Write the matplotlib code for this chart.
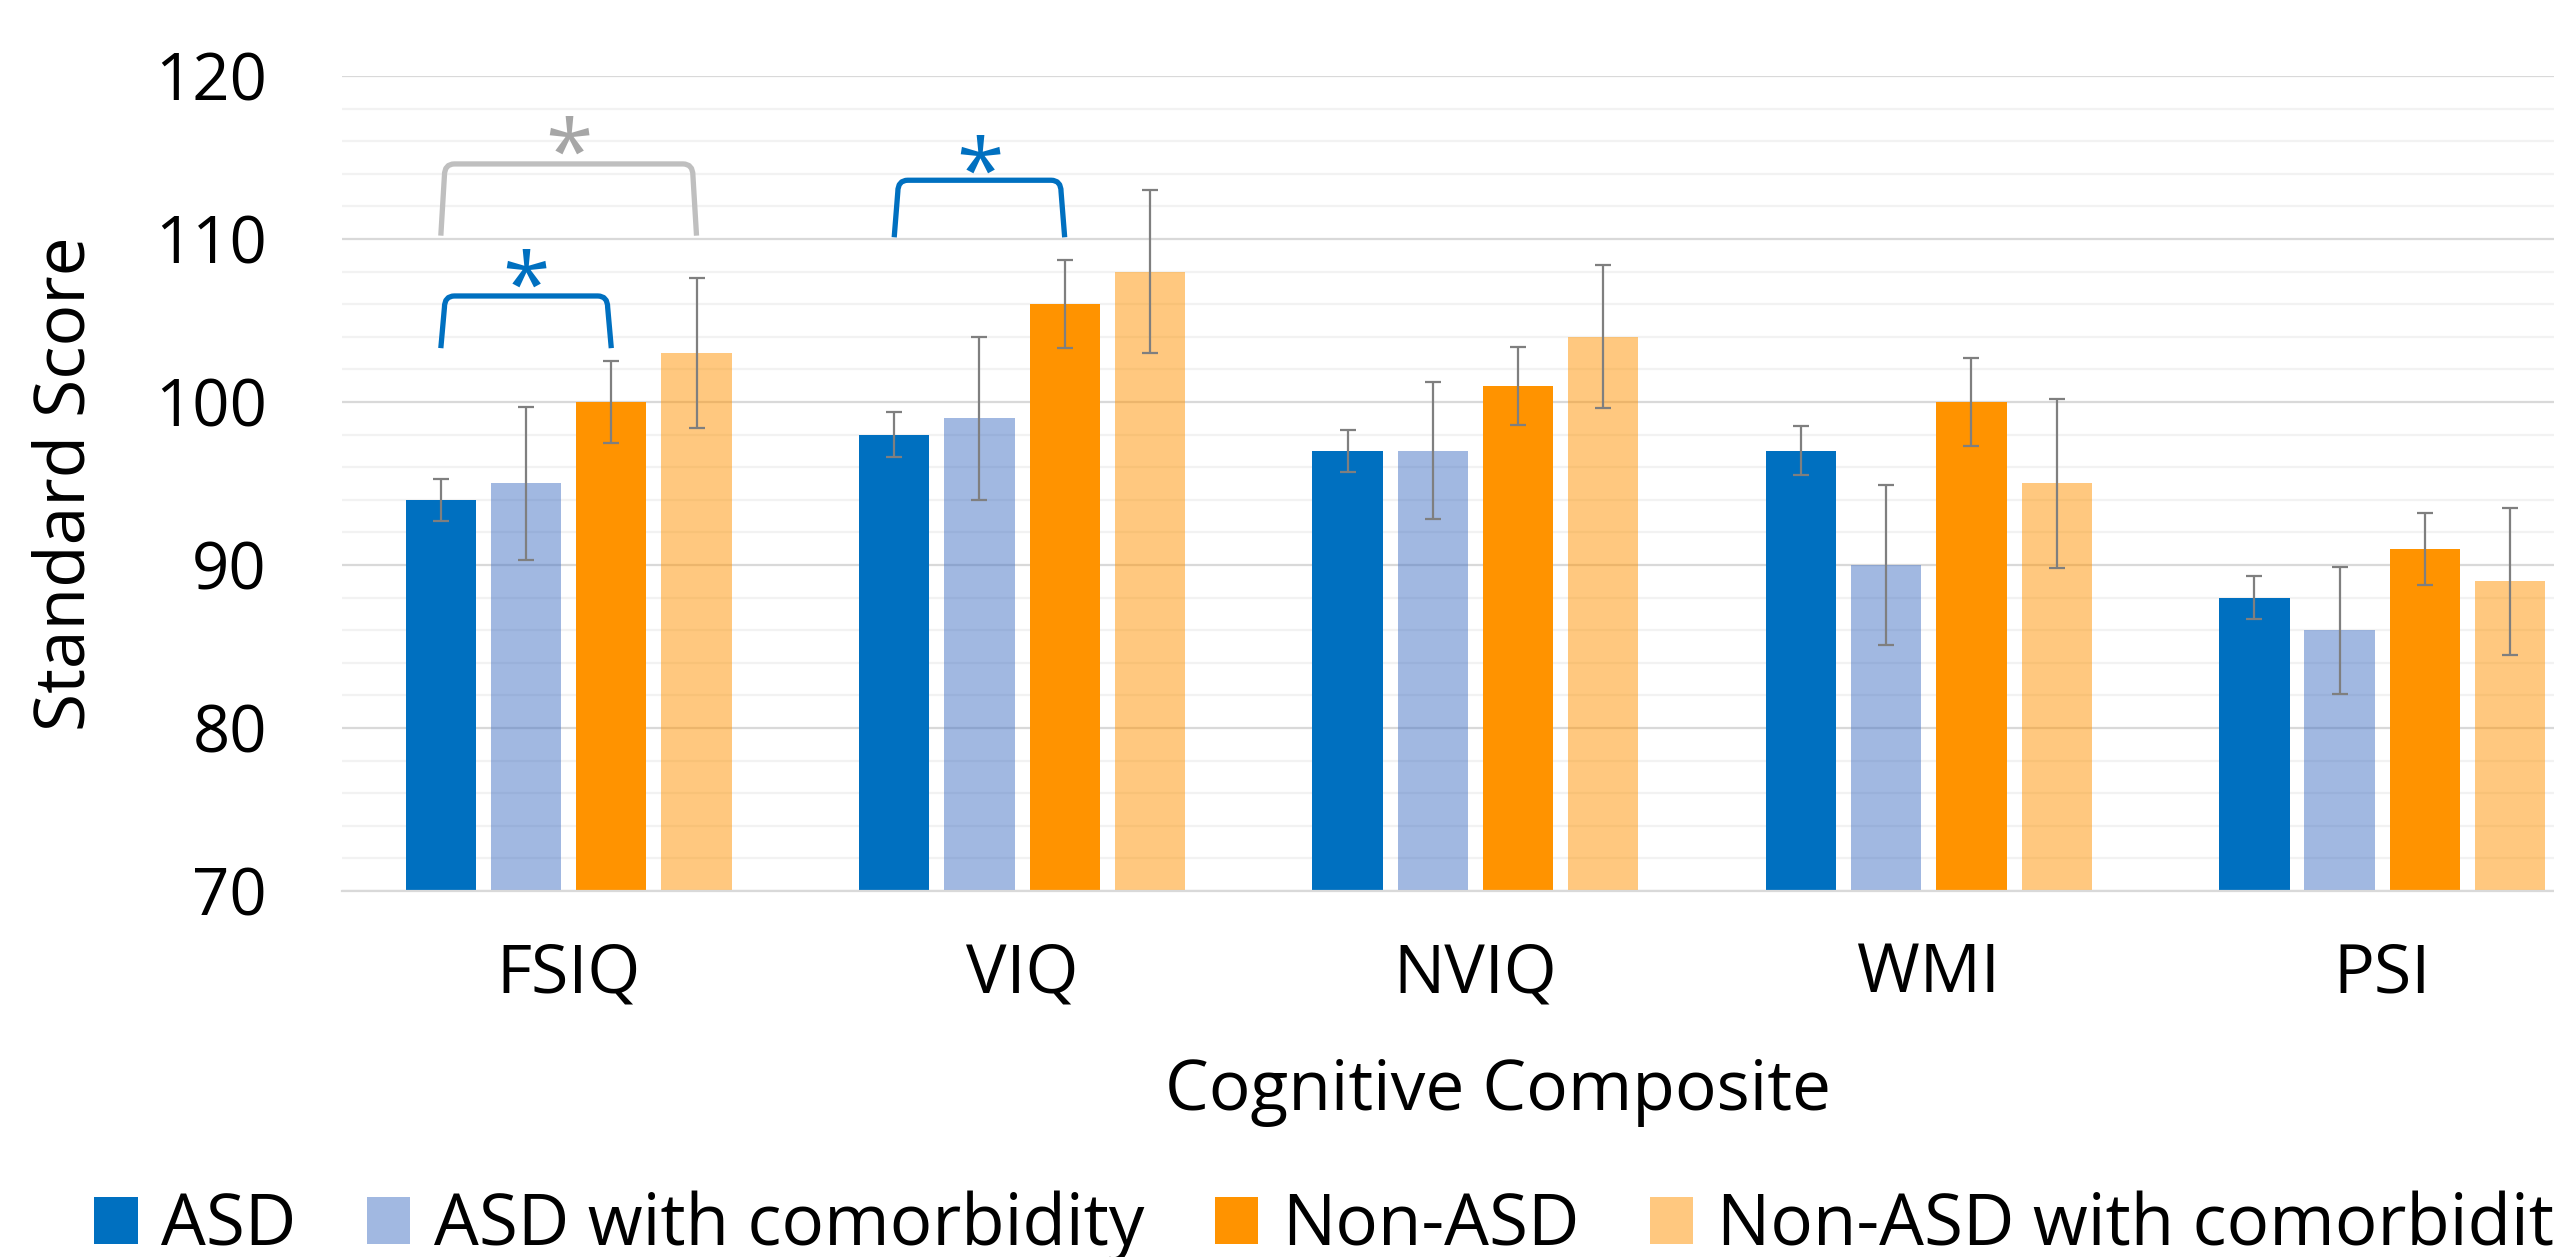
import numpy as np
import matplotlib
matplotlib.use("Agg")
from matplotlib import pyplot as plt
from matplotlib.path import Path
from matplotlib.patches import PathPatch
from matplotlib.ticker import MultipleLocator

plt.rcParams['font.family'] = ['Open Sans', 'DejaVu Sans']

# data
categories = ['FSIQ', 'VIQ', 'NVIQ', 'WMI', 'PSI']
groups = ['ASD', 'ASD with comorbidity', 'Non-ASD', 'Non-ASD with comorbidity']

asd = [94, 98, 97, 97, 88]
asd_err = [1.3, 1.4, 1.3, 1.5, 1.3]
asd_comorb = [95, 99, 97, 90, 86]
asd_comorb_err = [4.7, 5.0, 4.2, 4.9, 3.9]
non_asd = [100, 106, 101, 100, 91]
non_asd_err = [2.5, 2.7, 2.4, 2.7, 2.2]
non_asd_comorb = [103, 108, 104, 95, 89]
non_asd_comorb_err = [4.6, 5.0, 4.4, 5.2, 4.5]

# significance brackets: category, first group, second group, leg bottom, bracket top, star level
sig_category = [0, 0, 1]
sig_first = [0, 0, 0]
sig_second = [2, 3, 2]
sig_low = [103.3, 110.2, 110.1]
sig_high = [106.5, 114.6, 113.6]
sig_star = [108.3, 116.5, 115.3]
sig_colors = ['#0070C0', '#BFBFBF', '#0070C0']
star_colors = ['#0070C0', '#A6A6A6', '#0070C0']

values = [asd, asd_comorb, non_asd, non_asd_comorb]
errors = [asd_err, asd_comorb_err, non_asd_err, non_asd_comorb_err]
colors = ['#0070C0', '#4472C4', '#FF9300', '#FF9300']
alphas = [1.0, 0.5, 1.0, 0.5]

fig = plt.figure(figsize=(25.54, 12.57), dpi=100)
ax = fig.add_axes([0.1339, 0.2912, 0.8876, 0.6484])

x = np.arange(len(categories))
pitch = 0.188
width = 0.155
offsets = (np.arange(len(groups)) - 1.5) * pitch

for i, g in enumerate(groups):
    ax.bar(x + offsets[i], values[i], width, bottom=0, color=colors[i],
           alpha=alphas[i], label=g, zorder=2)
    ax.errorbar(x + offsets[i], values[i], yerr=errors[i], fmt='none',
                ecolor='#7F7F7F', elinewidth=1.6, capsize=5.8, capthick=1.6,
                zorder=3)

# brackets with small rounded corners
star_fs = 62
for k in range(len(sig_category)):
    x0 = sig_category[k] + offsets[sig_first[k]]
    x1 = sig_category[k] + offsets[sig_second[k]]
    lo, hi = sig_low[k], sig_high[k]
    a, rx, ry = 0.008, 0.022, 0.7
    verts = [(x0, lo), (x0 + a, hi - ry), (x0 + a, hi), (x0 + a + rx, hi),
             (x1 - a - rx, hi), (x1 - a, hi), (x1 - a, hi - ry), (x1, lo)]
    codes = [Path.MOVETO, Path.LINETO, Path.CURVE3, Path.CURVE3,
             Path.LINETO, Path.CURVE3, Path.CURVE3, Path.LINETO]
    ax.add_patch(PathPatch(Path(verts, codes), fill=False, edgecolor=sig_colors[k],
                           lw=3.8, capstyle='butt', joinstyle='round', zorder=4))
    ax.annotate('*', xy=((x0 + x1) / 2, sig_star[k]), xytext=(0, -0.56 * star_fs),
                textcoords='offset points', ha='center', va='baseline',
                fontsize=star_fs, color=star_colors[k], zorder=5)

ax.set_xlim(-0.5, len(categories) - 0.5)
ax.set_ylim(70, 120)
ax.set_yticks(np.arange(70, 121, 10))
ax.yaxis.set_minor_locator(MultipleLocator(2))
ax.set_xticks(x)
ax.set_xticklabels(categories)
ax.set_axisbelow(True)
ax.grid(which='major', axis='y', color='#D9D9D9', lw=1.6)
ax.grid(which='minor', axis='y', color='#F2F2F2', lw=1.6)
ax.tick_params(axis='y', which='both', length=0, pad=54, labelsize=47)
ax.tick_params(axis='x', length=0, pad=36, labelsize=49)
for s in ['top', 'right', 'left']:
    ax.spines[s].set_visible(False)
ax.spines['bottom'].set_color('#D9D9D9')
ax.spines['bottom'].set_linewidth(1.6)

ax.set_xlabel('Cognitive Composite', fontsize=50)
ax.xaxis.set_label_coords(0.510, -0.204)
ax.set_ylabel('Standard Score', fontsize=50)
ax.yaxis.set_label_coords(-0.106, 0.5)

fig.legend(loc='lower left', bbox_to_anchor=(0.037, -0.004), ncol=4,
           frameon=False, fontsize=51, handlelength=0.61, handleheight=0.64,
           handletextpad=0.33, columnspacing=1.0, borderpad=0, borderaxespad=0)

fig.savefig('out.png', dpi=100)
